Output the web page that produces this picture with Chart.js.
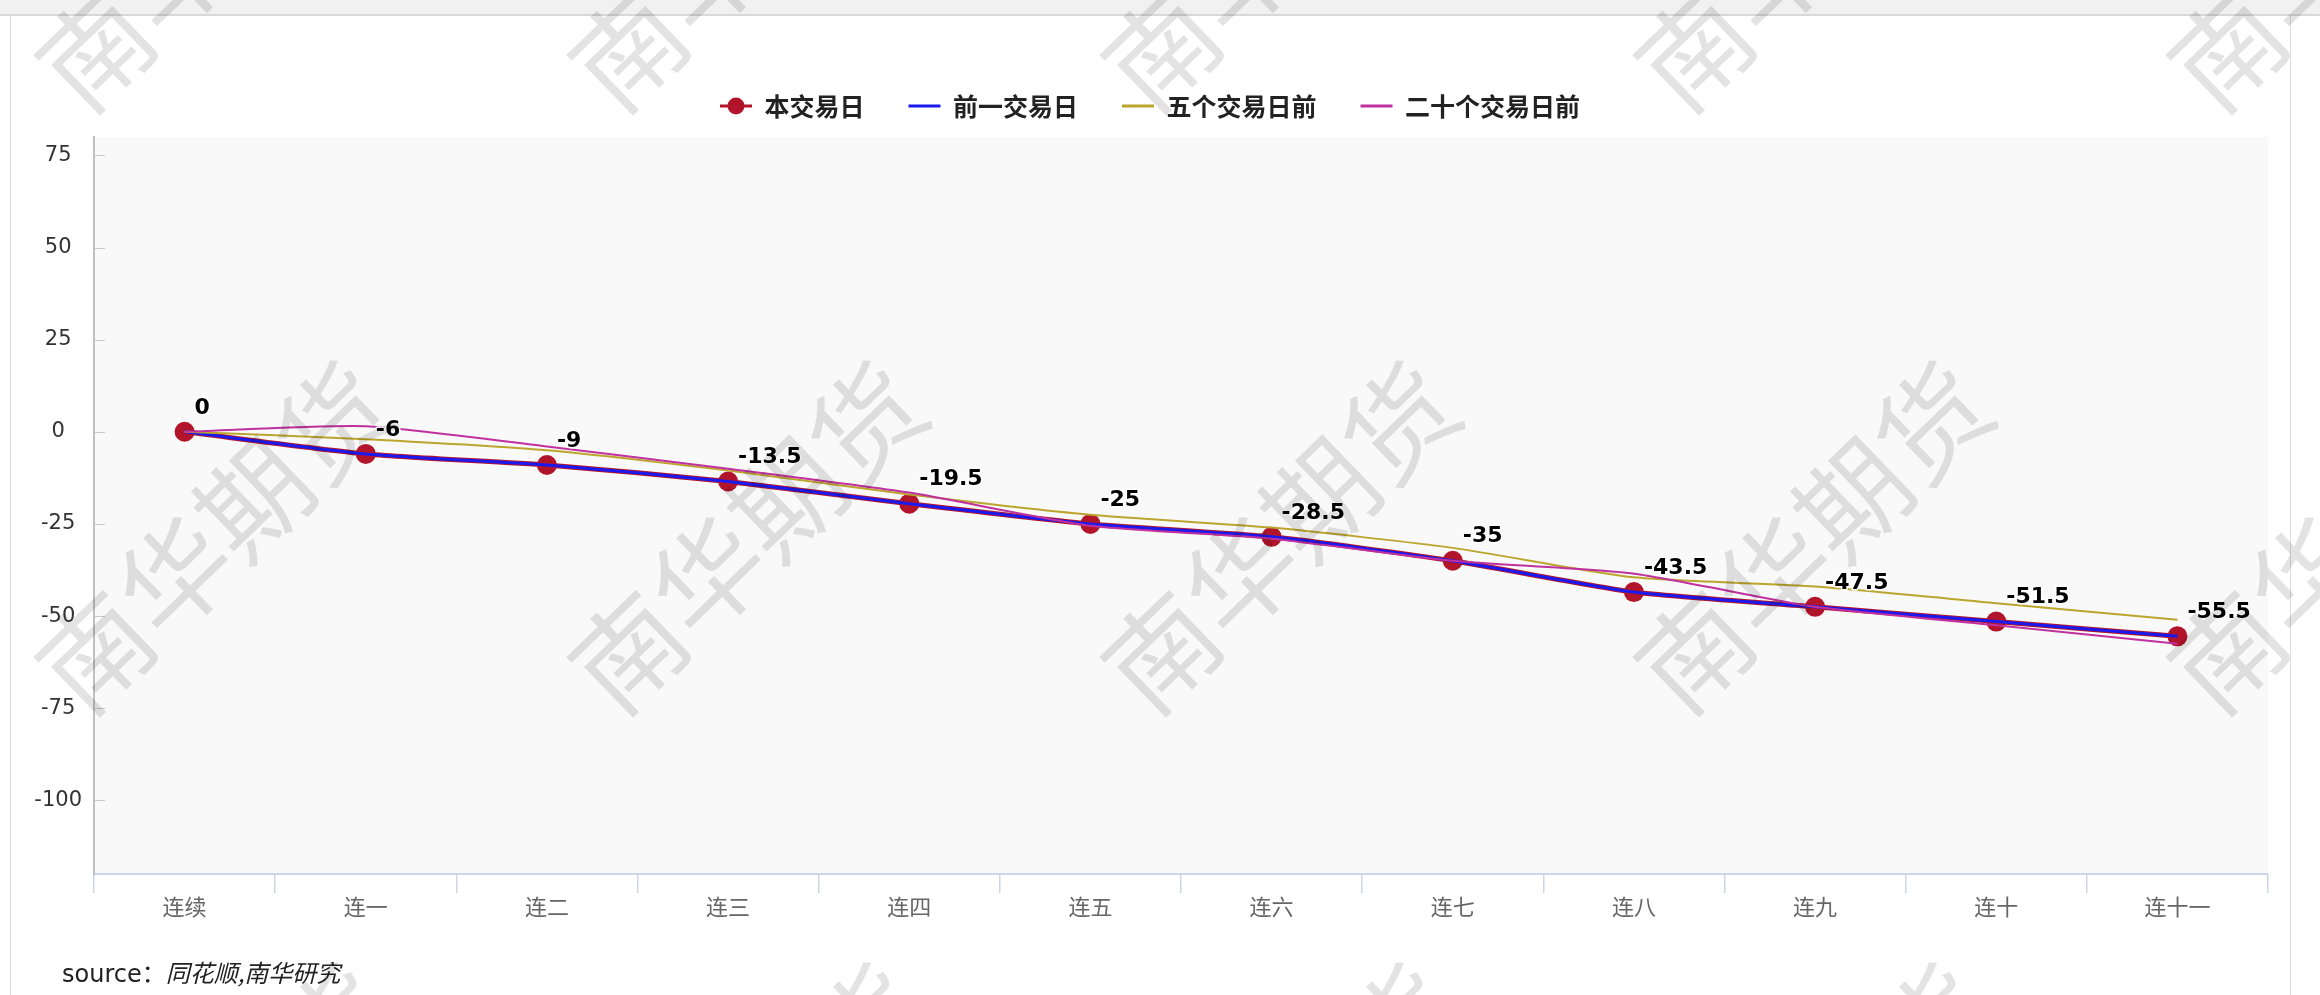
<!DOCTYPE html>
<html>
<head>
<meta charset="utf-8">
<title>连续涨跌停</title>
<script src="https://cdn.jsdelivr.net/npm/chart.js@4.4.1/dist/chart.umd.min.js"></script>
<style>
    html, body { margin: 0; padding: 0; background: #fff; }
    body { width: 2320px; height: 995px; position: relative; overflow: hidden; font-family: "Noto Sans CJK SC", sans-serif; }
    .topbar { position: absolute; left: 0; top: 0; width: 2320px; height: 14px; background: #f1f1f1; border-bottom: 2px solid #d8d8d8; }
    .frame { position: absolute; top: 16px; bottom: 0; width: 1px; background: #dcdcdc; }
    #chart { position: absolute; left: 0; top: 0; width: 2320px; height: 995px; }
    .source { position: absolute; left: 62px; top: 958px; font-size: 24px; line-height: 28px; color: #222; white-space: nowrap; }
    .source .lat { font-family: "DejaVu Sans", sans-serif; }
    .source i { font-style: italic; }
    #wm { position: absolute; left: 0; top: 0; width: 2320px; height: 995px; pointer-events: none; }
    .wm { position: absolute; font-size: 110px; line-height: 1; color: rgba(0, 0, 0, 0.11); white-space: nowrap;
          transform: translate(-50%, -50%) rotate(-44deg); }
</style>
</head>
<body>
<div class="topbar"></div>
<div class="frame" style="left:10px"></div>
<div class="frame" style="left:2290px"></div>
<canvas id="chart" width="2320" height="995"></canvas>
<div class="source"><span class="lat">source</span>：<i>同花顺,南华研究</i></div>
<div id="wm"></div>
<script>
"use strict";

// data
var categories = ['连续', '连一', '连二', '连三', '连四', '连五', '连六', '连七', '连八', '连九', '连十', '连十一'];
var todayValues = [0, -6, -9, -13.5, -19.5, -25, -28.5, -35, -43.5, -47.5, -51.5, -55.5];
var prevDayValues = [0, -6, -9, -13.5, -19.5, -25, -28.5, -35, -43.5, -47.5, -51.5, -55.5];
var fiveDaysAgoValues = [0, -2, -5, -10.5, -17, -22.5, -26, -31.5, -39.5, -42, -46.5, -51];
var twentyDaysAgoValues = [0, 1.5, -4, -10, -16.5, -25.5, -29, -35, -38.5, -47.5, -52.5, -57.5];
var yTicks = [-100, -75, -50, -25, 0, 25, 50, 75];

/* watermark */
var wmLayer = document.getElementById('wm');
for (var r = -1; r <= 1; r++) {
    for (var c = -1; c <= 3; c++) {
        var d = document.createElement('div');
        d.className = 'wm';
        d.textContent = '南华期货';
        d.style.left = (743 + 533 * c) + 'px';
        d.style.top = (533 + 602 * r) + 'px';
        wmLayer.appendChild(d);
    }
}

/* legend symbol for the marker series */
function makeMarkerSymbol(color) {
    var cv = document.createElement('canvas');
    cv.width = 32;
    cv.height = 20;
    var g = cv.getContext('2d');
    g.strokeStyle = color;
    g.lineWidth = 3;
    g.beginPath();
    g.moveTo(0, 10);
    g.lineTo(32, 10);
    g.stroke();
    g.fillStyle = color;
    g.beginPath();
    g.arc(16, 10, 8.5, 0, Math.PI * 2);
    g.fill();
    return cv;
}
var markerSymbol = makeMarkerSymbol('#b2152b');

/* plot background */
var plotBg = {
    id: 'plotBg',
    beforeDraw: function (chart) {
        var a = chart.chartArea, ctx = chart.ctx;
        ctx.save();
        ctx.fillStyle = '#f9f9f9';
        ctx.fillRect(a.left, a.top, a.right - a.left, a.bottom - a.top);
        ctx.restore();
    }
};

/* short y ticks pointing into the plot */
var yInnerTicks = {
    id: 'yInnerTicks',
    beforeDatasetsDraw: function (chart) {
        var a = chart.chartArea, ctx = chart.ctx, y = chart.scales.y;
        ctx.save();
        ctx.strokeStyle = '#c8c8c8';
        ctx.lineWidth = 1;
        yTicks.forEach(function (v) {
            var py = Math.round(y.getPixelForValue(v)) + 0.5;
            ctx.beginPath();
            ctx.moveTo(a.left, py);
            ctx.lineTo(a.left + 11, py);
            ctx.stroke();
        });
        ctx.restore();
    }
};

/* value labels on the first series */
var pointLabels = {
    id: 'pointLabels',
    afterDatasetsDraw: function (chart) {
        var ctx = chart.ctx;
        var meta = chart.getDatasetMeta(0);
        var values = chart.data.datasets[0].data;
        ctx.save();
        ctx.font = 'bold 22px "DejaVu Sans"';
        ctx.textAlign = 'left';
        ctx.textBaseline = 'middle';
        ctx.lineJoin = 'round';
        ctx.lineWidth = 3;
        ctx.strokeStyle = '#ffffff';
        ctx.fillStyle = '#000000';
        meta.data.forEach(function (pt, i) {
            var txt = String(values[i]);
            ctx.strokeText(txt, pt.x + 10, pt.y - 24);
            ctx.fillText(txt, pt.x + 10, pt.y - 24);
        });
        ctx.restore();
    }
};

var ctx = document.getElementById('chart').getContext('2d');
var myChart = new Chart(ctx, {
    type: 'line',
    data: {
        labels: categories,
        datasets: [{
            label: '本交易日',
            data: todayValues,
            borderColor: '#b2152b',
            backgroundColor: '#b2152b',
            borderWidth: 5,
            pointRadius: 10,
            pointBackgroundColor: '#b2152b',
            pointBorderWidth: 0,
            tension: 0.2,
            order: 4
        }, {
            label: '前一交易日',
            data: prevDayValues,
            borderColor: '#1a1af0',
            borderWidth: 3,
            pointRadius: 0,
            tension: 0.2,
            order: 3
        }, {
            label: '五个交易日前',
            data: fiveDaysAgoValues,
            borderColor: '#bba52d',
            borderWidth: 2,
            pointRadius: 0,
            tension: 0.2,
            order: 2
        }, {
            label: '二十个交易日前',
            data: twentyDaysAgoValues,
            borderColor: '#c0309f',
            borderWidth: 2,
            pointRadius: 0,
            tension: 0.2,
            order: 1
        }]
    },
    options: {
        responsive: false,
        animation: false,
        events: [],
        devicePixelRatio: 1,
        layout: {
            padding: { left: 32, right: 52, top: 49.5, bottom: 0 }
        },
        plugins: {
            tooltip: { enabled: false },
            title: {
                display: true,
                text: ' ',
                position: 'top',
                weight: 500,
                font: { size: 1 },
                padding: { top: 0, bottom: 7.3 }
            },
            legend: {
                display: true,
                position: 'top',
                labels: {
                    usePointStyle: true,
                    pointStyleWidth: 32,
                    padding: 44,
                    color: '#222',
                    font: { family: '"Noto Sans CJK SC"', size: 25, weight: 'bold' },
                    generateLabels: function (chart) {
                        var items = Chart.defaults.plugins.legend.labels.generateLabels(chart);
                        items.forEach(function (it) {
                            if (it.datasetIndex === 0) {
                                it.pointStyle = markerSymbol;
                            } else {
                                it.pointStyle = 'line';
                                it.lineWidth = 3;
                            }
                        });
                        return items;
                    },
                    sort: function (a, b) { return a.datasetIndex - b.datasetIndex; }
                }
            }
        },
        scales: {
            x: {
                type: 'category',
                offset: true,
                grid: {
                    offset: true,
                    drawOnChartArea: false,
                    drawTicks: true,
                    tickLength: 19,
                    color: '#ccd6eb',
                    lineWidth: 1.5
                },
                border: { display: true, color: '#ccd6eb', width: 2 },
                ticks: {
                    color: '#666',
                    font: { family: '"Noto Sans CJK SC"', size: 22 },
                    padding: 0,
                    autoSkip: false,
                    maxRotation: 0
                },
                afterFit: function (scale) { scale.height = 121; }
            },
            y: {
                min: -120,
                max: 80,
                afterBuildTicks: function (scale) {
                    scale.ticks = yTicks.map(function (v) { return { value: v }; });
                },
                grid: { drawOnChartArea: false, drawTicks: false },
                border: { display: true, color: '#c0c0c0', width: 2 },
                ticks: {
                    color: '#333',
                    font: { family: '"DejaVu Sans"', size: 21 },
                    crossAlign: 'center',
                    padding: 12
                },
                afterFit: function (scale) { scale.width = 62; }
            }
        }
    },
    plugins: [plotBg, yInnerTicks, pointLabels]
});
</script>
</body>
</html>
